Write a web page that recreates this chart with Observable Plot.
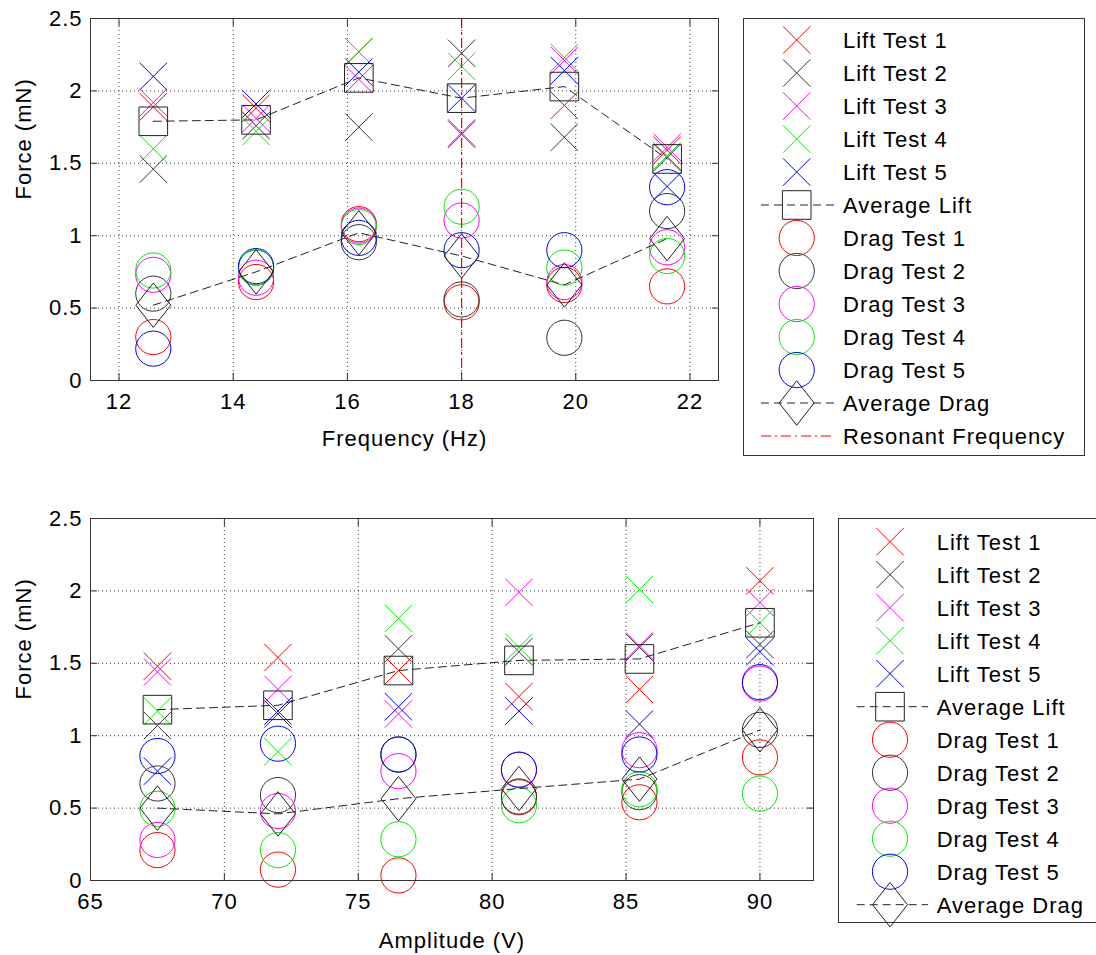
<!DOCTYPE html>
<html>
<head>
<meta charset="utf-8">
<script src="https://cdn.jsdelivr.net/npm/d3@7"></script>
<script src="https://cdn.jsdelivr.net/npm/@observablehq/plot@0.6"></script>
<style>
  body { margin: 0; background: #fff; }
  #wrap { position: relative; width: 1096px; height: 955px; overflow: hidden; background: #fff;
          font-family: "Liberation Sans", Arial, Helvetica, sans-serif; }
  .abs { position: absolute; }
</style>
</head>
<body>
<div id="wrap"></div>
<script>
// ---------------- DATA ----------------
const forceTicks = [0, 0.5, 1, 1.5, 2, 2.5];
const freqTicks = [12, 14, 16, 18, 20, 22];
const ampTicks = [65, 70, 75, 80, 85, 90];

// Frequency sweep (Hz)
const freqHz = [12.6, 14.4, 16.2, 18.0, 19.8, 21.6];
const freqLift1 = [1.89, 1.88, 2.27, 1.70, 1.90, 1.59];
const freqLift2 = [1.46, 1.76, 1.75, 2.26, 1.68, 1.54];
const freqLift3 = [1.92, 1.81, 2.08, 1.71, 2.21, 1.61];
const freqLift4 = [1.60, 1.72, 2.27, 2.17, 2.23, 1.55];
const freqLift5 = [2.10, 1.91, 2.13, 1.95, 2.14, 1.34];
const freqLiftAvg = [1.79, 1.80, 2.09, 1.95, 2.03, 1.53];
const freqDrag1 = [0.30, 0.68, 1.08, 0.54, 0.66, 0.65];
const freqDrag2 = [0.60, 0.78, 0.955, 0.56, 0.295, 1.17];
const freqDrag3 = [0.73, 0.71, 1.07, 1.105, 0.68, 0.92];
const freqDrag4 = [0.76, 0.78, 1.06, 1.20, 0.78, 0.86];
const freqDrag5 = [0.22, 0.79, 0.985, 0.90, 0.90, 1.335];
const freqDragAvg = [0.52, 0.75, 1.02, 0.86, 0.66, 0.98];
const resonantHz = [18];

// Amplitude sweep (V)
const ampV = [67.5, 72, 76.5, 81, 85.5, 90];
const ampLift1 = [1.48, 1.54, 1.45, 1.27, 1.32, 2.07];
const ampLift2 = [1.07, 1.15, 1.60, 1.58, 1.61, 1.63];
const ampLift3 = [1.44, 1.32, 1.15, 1.99, 1.62, 1.92];
const ampLift4 = [1.17, 0.89, 1.81, 1.61, 2.01, 1.78];
const ampLift5 = [0.755, 1.17, 1.20, 1.17, 1.08, 1.58];
const ampLiftAvg = [1.18, 1.21, 1.45, 1.52, 1.53, 1.78];
const ampDrag1 = [0.21, 0.075, 0.035, 0.575, 0.54, 0.85];
const ampDrag2 = [0.67, 0.59, 0.87, 0.58, 0.61, 1.04];
const ampDrag3 = [0.28, 0.48, 0.755, 0.765, 0.90, 1.36];
const ampDrag4 = [0.495, 0.21, 0.285, 0.52, 0.63, 0.60];
const ampDrag5 = [0.86, 0.945, 0.87, 0.765, 0.87, 1.37];
const ampDragAvg = [0.50, 0.46, 0.565, 0.635, 0.70, 1.04];

const testNames = ["Test 1", "Test 2", "Test 3", "Test 4", "Test 5"];

// ---------------- STYLE ----------------
const testColors = ["#ff0000", "#333333", "#ff00ff", "#00ee00", "#0000ff"];
const avgColor = "#222222";
const avgDash = "8,5";
const resDash = "10,4,2,4";
const FONT = "'Liberation Sans', Arial, Helvetica, sans-serif";
const FONT_SIZE = "22px", LETTER = "1px";
const R_X = 13.7, R_SQ = 14.3, R_CIRC = 17.6, R_DIA = 17.5;

const symX = { draw(c, s) { const r = Math.sqrt(s / Math.PI); c.moveTo(-r, -r); c.lineTo(r, r); c.moveTo(-r, r); c.lineTo(r, -r); } };
const symSquare = { draw(c, s) { const r = Math.sqrt(s / Math.PI); c.moveTo(-r, -r); c.lineTo(r, -r); c.lineTo(r, r); c.lineTo(-r, r); c.closePath(); } };
const symDiamond = { draw(c, s) { const r = Math.sqrt(s / Math.PI), h = r * 1.27; c.moveTo(0, -h); c.lineTo(r, 0); c.lineTo(0, h); c.lineTo(-r, 0); c.closePath(); } };
const symCircle = { draw(c, s) { const r = Math.sqrt(s / Math.PI); c.moveTo(r, 0); c.arc(0, 0, r, 0, 2 * Math.PI); } };

const wrap = document.getElementById("wrap");

function chart({xs, xTicks, xDomain, xLabel, lifts, liftAvg, drags, dragAvg, resonant, width, height, mb, labelDy}) {
  const marks = [
    Plot.gridX(xTicks, {stroke: "#000", strokeOpacity: 0.75, strokeDasharray: "1,3"}),
    Plot.gridY(forceTicks, {stroke: "#000", strokeOpacity: 0.75, strokeDasharray: "1,3"}),
  ];
  lifts.forEach((vals, i) => marks.push(
    Plot.dot(xs, {x: xs, y: vals, symbol: symX, r: R_X, stroke: testColors[i], fill: "none", strokeWidth: 1})
  ));
  marks.push(Plot.line(xs, {x: xs, y: liftAvg, stroke: avgColor, strokeWidth: 1, strokeDasharray: avgDash}));
  marks.push(Plot.dot(xs, {x: xs, y: liftAvg, symbol: symSquare, r: R_SQ, stroke: avgColor, fill: "none", strokeWidth: 1}));
  drags.forEach((vals, i) => marks.push(
    Plot.dot(xs, {x: xs, y: vals, symbol: symCircle, r: R_CIRC, stroke: testColors[i], fill: "none", strokeWidth: 1})
  ));
  marks.push(Plot.line(xs, {x: xs, y: dragAvg, stroke: avgColor, strokeWidth: 1, strokeDasharray: avgDash}));
  marks.push(Plot.dot(xs, {x: xs, y: dragAvg, symbol: symDiamond, r: R_DIA, stroke: avgColor, fill: "none", strokeWidth: 1}));
  if (resonant) marks.push(Plot.ruleX(resonant, {stroke: "#ff0000", strokeWidth: 1.2, strokeDasharray: resDash}));
  marks.push(
    Plot.frame({stroke: "#333"}),
    Plot.axisX(xTicks, {anchor: "bottom", tickSize: -7, fill: "none", stroke: "#333", label: null}),
    Plot.axisX(xTicks, {anchor: "top", tickSize: -7, fill: "none", stroke: "#333", label: null}),
    Plot.axisY(forceTicks, {anchor: "left", tickSize: -7, fill: "none", stroke: "#333", label: null}),
    Plot.axisY(forceTicks, {anchor: "right", tickSize: -7, fill: "none", stroke: "#333", label: null}),
    Plot.axisX(xTicks, {anchor: "bottom", tickSize: 0, tickPadding: 13, label: null, tickFormat: d => `${d}`, fill: "#000"}),
    Plot.axisY(forceTicks, {anchor: "left", tickSize: 0, tickPadding: 8, label: null, tickFormat: d => `${d}`, fill: "#000"}),
    Plot.text([xLabel], {frameAnchor: "bottom", dy: labelDy, lineAnchor: "middle", text: d => d, fill: "#000"}),
    Plot.text(["Force (mN)"], {frameAnchor: "left", dx: -67, rotate: -90, lineAnchor: "middle", text: d => d, fill: "#000"})
  );
  return Plot.plot({
    width, height,
    marginLeft: 90, marginRight: 12, marginTop: 18, marginBottom: mb,
    x: {domain: xDomain},
    y: {domain: [0, 2.5]},
    style: `font-family: ${FONT}; font-size: ${FONT_SIZE}; letter-spacing: ${LETTER}; background: transparent; overflow: visible;`,
    marks
  });
}

function legend({left, top, width, height, rowY0, symCx, textX, lineX1, lineX2, entries}) {
  const svg = d3.select(wrap).append("svg")
    .attr("class", "abs").style("left", left + "px").style("top", top + "px")
    .attr("width", width).attr("height", height).style("overflow", "visible");
  svg.append("rect").attr("x", 0.5).attr("y", 0.5).attr("width", width - 1).attr("height", height - 1)
    .attr("fill", "#fff").attr("stroke", "#333");
  entries.forEach((e, i) => {
    const y = rowY0 + 33 * i;
    if (e.dash) {
      svg.append("line").attr("x1", lineX1).attr("x2", lineX2).attr("y1", y).attr("y2", y)
        .attr("stroke", e.lineColor).attr("stroke-dasharray", e.dash);
    }
    if (e.symbol) {
      const p = d3.path();
      e.symbol.draw(p, e.r * e.r * Math.PI);
      svg.append("path").attr("transform", `translate(${symCx},${y})`).attr("d", p.toString())
        .attr("fill", "none").attr("stroke", e.color);
    }
    svg.append("text").attr("x", textX).attr("y", y).attr("dy", "0.36em")
      .style("font-family", FONT).style("font-size", FONT_SIZE).style("letter-spacing", LETTER)
      .attr("fill", "#000").text(e.label);
  });
}

function legendEntries(withResonant) {
  const out = [];
  testNames.forEach((t, i) => out.push({label: "Lift " + t, symbol: symX, r: R_X, color: testColors[i]}));
  out.push({label: "Average Lift", symbol: symSquare, r: R_SQ, color: avgColor, dash: avgDash, lineColor: avgColor});
  testNames.forEach((t, i) => out.push({label: "Drag " + t, symbol: symCircle, r: R_CIRC, color: testColors[i]}));
  out.push({label: "Average Drag", symbol: symDiamond, r: R_DIA, color: avgColor, dash: avgDash, lineColor: avgColor});
  if (withResonant) out.push({label: "Resonant Frequency", dash: resDash, lineColor: "#ff0000"});
  return out;
}

// ---------------- TOP CHART ----------------
const topChart = chart({
  xs: freqHz, xTicks: freqTicks, xDomain: [11.5, 22.5], xLabel: "Frequency (Hz)",
  lifts: [freqLift1, freqLift2, freqLift3, freqLift4, freqLift5], liftAvg: freqLiftAvg,
  drags: [freqDrag1, freqDrag2, freqDrag3, freqDrag4, freqDrag5], dragAvg: freqDragAvg,
  resonant: resonantHz, width: 730, height: 470, mb: 90, labelDy: 58
});
topChart.classList.add("abs"); topChart.style.left = "0px"; topChart.style.top = "0px";
wrap.appendChild(topChart);

// ---------------- BOTTOM CHART ----------------
const bottomChart = chart({
  xs: ampV, xTicks: ampTicks, xDomain: [65, 92], xLabel: "Amplitude (V)",
  lifts: [ampLift1, ampLift2, ampLift3, ampLift4, ampLift5], liftAvg: ampLiftAvg,
  drags: [ampDrag1, ampDrag2, ampDrag3, ampDrag4, ampDrag5], dragAvg: ampDragAvg,
  resonant: null, width: 825, height: 455, mb: 75, labelDy: 60
});
bottomChart.classList.add("abs"); bottomChart.style.left = "0px"; bottomChart.style.top = "500px";
wrap.appendChild(bottomChart);

// ---------------- LEGENDS ----------------
legend({left: 743, top: 18, width: 342, height: 438, rowY0: 22, symCx: 53.7, textX: 100,
        lineX1: 18, lineX2: 92, entries: legendEntries(true)});
legend({left: 838, top: 518, width: 270, height: 405, rowY0: 23.7, symCx: 52, textX: 98.7,
        lineX1: 18.7, lineX2: 90, entries: legendEntries(false)});
</script>
</body>
</html>
